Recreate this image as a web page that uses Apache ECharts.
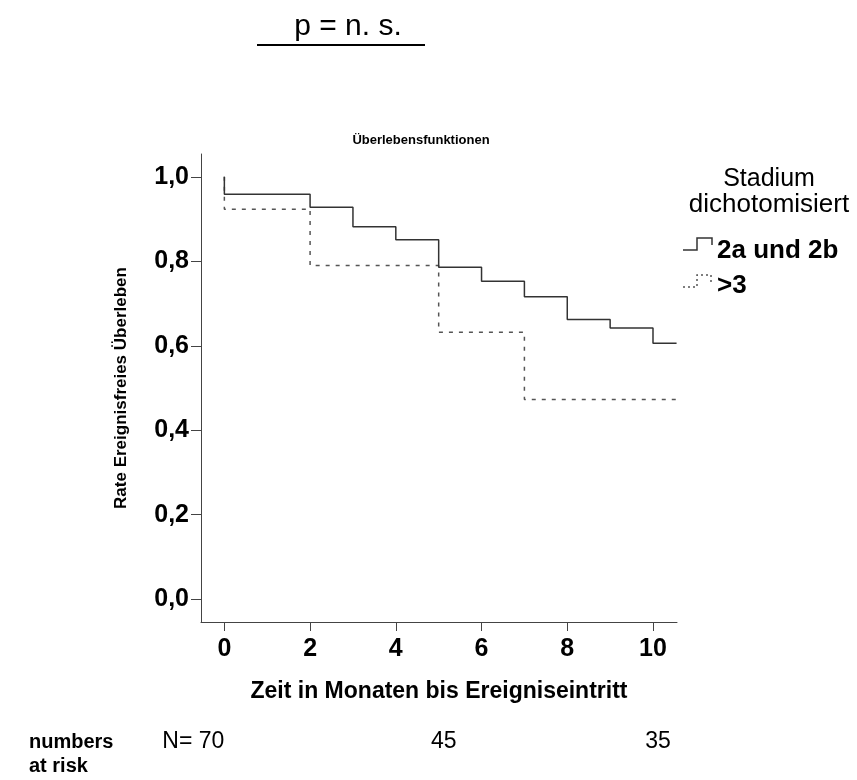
<!DOCTYPE html>
<html><head><meta charset="utf-8">
<script src="https://cdn.jsdelivr.net/npm/echarts@6/dist/echarts.min.js"></script>
<style>html,body{margin:0;padding:0;background:#fff}#c{width:857px;height:780px}</style>
</head><body><div id="c"></div>
<script>
// ---- data ----
const seriesNames = ['2a und 2b', '>3'];
const timesA = [0, 0, 2, 3, 4, 5, 6, 7, 8, 9, 10, 10.55];
const survA  = [1, 0.959, 0.928, 0.882, 0.851, 0.786, 0.753, 0.716, 0.662, 0.642, 0.606, 0.606];
const timesB = [0, 0, 2, 5, 7, 10.55];
const survB  = [1, 0.923, 0.79, 0.632, 0.473, 0.473];
const xTicks = [0, 2, 4, 6, 8, 10];
const xTickLabels = ['0', '2', '4', '6', '8', '10'];
const yTicks = [0, 0.2, 0.4, 0.6, 0.8, 1.0];
const yTickLabels = ['0,0', '0,2', '0,4', '0,6', '0,8', '1,0'];
const riskTimes = [0, 5, 10];
const riskLabels = ['N= 70', '45', '35'];
const legendTitle = ['Stadium', 'dichotomisiert'];

const FONT = '"Liberation Sans", Arial, Helvetica, sans-serif';
const AX = '#444';
const pts = (t, s) => t.map((v, i) => [v, s[i]]);
const lab = (ticks, labels) => v => { const i = ticks.findIndex(t => Math.abs(t - v) < 1e-9); return i >= 0 ? labels[i] : ''; };

const chart = echarts.init(document.getElementById('c'), null, {renderer: 'canvas'});
chart.setOption({
  animation: false,
  backgroundColor: '#fff',
  grid: {left: 201, right: 180, top: 154, bottom: 158, containLabel: false},
  xAxis: {
    type: 'value', min: -0.545, max: 10.56,
    axisLine: {show: true, onZero: false, lineStyle: {color: AX, width: 1}},
    axisTick: {show: true, length: 9, customValues: xTicks, lineStyle: {color: AX, width: 1}},
    axisLabel: {show: true, customValues: xTicks, formatter: lab(xTicks, xTickLabels), margin: 15,
      fontFamily: FONT, fontSize: 25, fontWeight: 'bold', color: '#000'},
    splitLine: {show: false},
    name: 'Zeit in Monaten bis Ereigniseintritt', nameLocation: 'middle', nameGap: 58,
    nameTextStyle: {fontFamily: FONT, fontSize: 23, fontWeight: 'bold', color: '#000'}
  },
  yAxis: {
    type: 'value', min: -0.054, max: 1.054,
    axisLine: {show: true, onZero: false, lineStyle: {color: AX, width: 1}},
    axisTick: {show: true, length: 10, customValues: yTicks, lineStyle: {color: AX, width: 1}},
    axisLabel: {show: true, customValues: yTicks, formatter: lab(yTicks, yTickLabels), margin: 12,
      fontFamily: FONT, fontSize: 25, fontWeight: 'bold', color: '#000'},
    splitLine: {show: false},
    name: 'Rate Ereignisfreies Überleben', nameLocation: 'middle', nameGap: 71, nameRotate: 90,
    nameTextStyle: {fontFamily: FONT, fontSize: 17, fontWeight: 'bold', color: '#000'}
  },
  series: [
    {type: 'line', name: seriesNames[0], data: pts(timesA, survA), step: 'end', symbol: 'none', showSymbol: false,
     lineStyle: {color: '#333', width: 1.5}, z: 3},
    {type: 'line', name: seriesNames[1], data: pts(timesB, survB), step: 'end', symbol: 'none', showSymbol: false,
     lineStyle: {color: '#555', width: 1.5, type: [4, 6]}, z: 2}
  ]
});

const riskY = 742;
const riskEls = riskTimes.map((t, i) => {
  const px = chart.convertToPixel({gridIndex: 0}, [t, 0])[0];
  return {type: 'text', x: i === 0 ? px : px + 5, y: riskY,
    style: {text: riskLabels[i], fill: '#000', font: '23px ' + FONT,
      textAlign: i === 0 ? 'right' : 'center', textVerticalAlign: 'middle'}};
});

chart.setOption({
  graphic: [
    {type: 'text', x: 348, y: 27, style: {text: 'p = n. s.', fill: '#000', font: '30px ' + FONT, textAlign: 'center', textVerticalAlign: 'middle'}},
    {type: 'line', shape: {x1: 257, y1: 45, x2: 425, y2: 45}, style: {stroke: '#000', lineWidth: 2}},
    {type: 'text', x: 421, y: 140, style: {text: 'Überlebensfunktionen', fill: '#000', font: 'bold 13px ' + FONT, textAlign: 'center', textVerticalAlign: 'middle'}},
    {type: 'text', x: 769, y: 179, style: {text: legendTitle[0], fill: '#000', font: '25px ' + FONT, textAlign: 'center', textVerticalAlign: 'middle'}},
    {type: 'text', x: 769, y: 205, style: {text: legendTitle[1], fill: '#000', font: '26px ' + FONT, textAlign: 'center', textVerticalAlign: 'middle'}},
    {type: 'polyline', shape: {points: [[683, 250], [697, 250], [697, 238], [712, 238], [712, 245]]}, style: {stroke: '#333', lineWidth: 1.5, fill: 'none'}},
    {type: 'polyline', shape: {points: [[683, 287], [697, 287], [697, 275], [711, 275], [711, 283]]}, style: {stroke: '#555', lineWidth: 1.5, fill: 'none', lineDash: [2, 3]}},
    {type: 'text', x: 717, y: 251, style: {text: seriesNames[0], fill: '#000', font: 'bold 26px ' + FONT, textAlign: 'left', textVerticalAlign: 'middle'}},
    {type: 'text', x: 717, y: 286, style: {text: seriesNames[1], fill: '#000', font: 'bold 26px ' + FONT, textAlign: 'left', textVerticalAlign: 'middle'}},
    {type: 'text', x: 29, y: riskY, style: {text: 'numbers', fill: '#000', font: 'bold 20px ' + FONT, textAlign: 'left', textVerticalAlign: 'middle'}},
    {type: 'text', x: 29, y: 766, style: {text: 'at risk', fill: '#000', font: 'bold 20px ' + FONT, textAlign: 'left', textVerticalAlign: 'middle'}}
  ].concat(riskEls)
});
</script></body></html>
